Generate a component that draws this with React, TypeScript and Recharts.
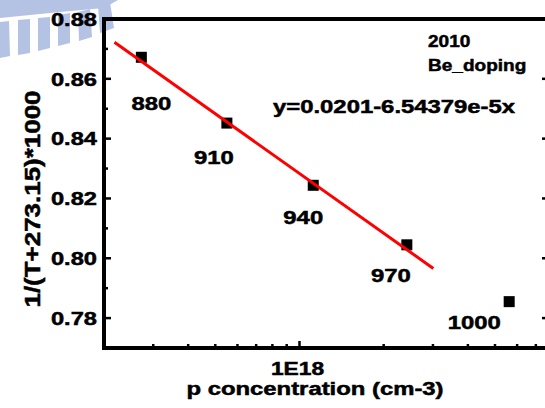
import { ComposedChart, Scatter, XAxis, YAxis } from 'recharts'

const temps = ['880', '910', '940', '970', '1000']
const conc = [2.72e17, 5.5e17, 1.12e18, 2.42e18, 5.62e18]
const invT = [0.8672, 0.8452, 0.8244, 0.8045, 0.7855]

const fitX = [2.18e17, 3.01e18]
const fitY = [0.8722, 0.7966]

const xTicks = [3e17, 4e17, 5e17, 6e17, 7e17, 8e17, 9e17, 1e18, 2e18, 3e18, 4e18, 5e18, 6e18, 7e18]
const xMajor = [1e18]
const xTickLabels = ['1E18']
const yTicks = [0.77, 0.78, 0.79, 0.8, 0.81, 0.82, 0.83, 0.84, 0.85, 0.86, 0.87, 0.88]
const yMajor = [0.78, 0.8, 0.82, 0.84, 0.86, 0.88]

const xDomain = [2e17, 7.8e18]
const yDomain = [0.77, 0.88]

const points = temps.map((t, i) => ({ x: conc[i], y: invT[i], label: t }))
const fit = fitX.map((x, i) => ({ x, y: fitY[i] }))

// plot box, matches the chart margins + axis sizes below
const PLOT = { left: 104, top: 19, right: 549, bottom: 348 }

// where each temperature label sits relative to its marker
const labelOffset: Record<string, [number, number]> = {
  '880': [10, 53],
  '910': [-13, 41],
  '940': [-10, 39],
  '970': [-16, 37],
  '1000': [-35, 27],
}

const FONT = '"Liberation Sans", Arial, sans-serif'

function SText({ x, y, children, size = 18.5, sx = 1.29, anchor = 'middle', rotate = 0, baseline }: any) {
  return (
    <g transform={`translate(${x},${y}) rotate(${rotate}) scale(${sx},1)`}>
      <text
        x={0}
        y={0}
        textAnchor={anchor}
        dominantBaseline={baseline}
        fontSize={size}
        fontWeight="bold"
        fontFamily={FONT}
        fill="#000"
        stroke="#000"
        strokeWidth={0.5}
      >
        {children}
      </text>
    </g>
  )
}

const isMajorX = (v: number) => xMajor.includes(v)
const isMajorY = (v: number) => yMajor.some((m) => Math.abs(m - v) < 1e-6)

function BottomTick({ x, y, payload }: any) {
  const major = isMajorX(payload.value)
  const idx = xMajor.indexOf(payload.value)
  return (
    <g>
      <line x1={x} x2={x} y1={y} y2={y - (major ? 7 : 4)} stroke="#000" strokeWidth={2.5} />
      {major && <SText x={x - 2} y={y + 27} sx={1.2} size={19}>{xTickLabels[idx]}</SText>}
    </g>
  )
}

function TopTick({ x, y, payload }: any) {
  const major = isMajorX(payload.value)
  return <line x1={x} x2={x} y1={y} y2={y + (major ? 7 : 4)} stroke="#000" strokeWidth={2.5} />
}

function LeftTick({ x, y, payload }: any) {
  const major = isMajorY(payload.value)
  return (
    <g>
      <line x1={x} x2={x + (major ? 7 : 4)} y1={y} y2={y} stroke="#000" strokeWidth={2.5} />
      {major && <SText x={x - 7} y={y + 6.7} anchor="end" sx={1.28}>{payload.value.toFixed(2)}</SText>}
    </g>
  )
}

function RightTick({ x, y, payload }: any) {
  const major = isMajorY(payload.value)
  return <line x1={x} x2={x - (major ? 7 : 4)} y1={y} y2={y} stroke="#000" strokeWidth={2.5} />
}

function PointShape({ cx, cy, payload }: any) {
  const [dx, dy] = labelOffset[payload.label] || [0, 40]
  return (
    <g>
      <rect x={cx - 5.5} y={cy - 5.5} width={11} height={11} fill="#000" />
      <SText x={cx + dx} y={cy + dy}>{payload.label}</SText>
    </g>
  )
}

function Watermark() {
  const c = '#b4c2e4'
  return (
    <svg width={545} height={408} style={{ position: 'absolute', left: 0, top: 0 }}>
      <polygon points="0,0 118,0 104,8 60,12 0,18" fill={c} />
      <polygon points="0,22 9,21 10,56 0,58" fill={c} />
      <polygon points="18,20 30,19 30,53 18,55" fill={c} />
      <polygon points="38,18 50,17 50,48 38,51" fill={c} />
      <polygon points="58,15 70,13 70,43 58,46" fill={c} />
      <polygon points="78,12 90,9 92,37 79,41" fill={c} />
      <polygon points="98,6 110,2 114,28 100,33" fill={c} />
    </svg>
  )
}

const axisCommon = {
  type: 'number' as const,
  allowDataOverflow: true,
  interval: 0 as const,
  tickLine: false,
  tickSize: 0,
  tickMargin: 0,
  axisLine: false,
}

export default function App() {
  return (
    <div style={{ position: 'absolute', left: 0, top: 0, width: 545, height: 408, overflow: 'hidden', background: '#fff' }}>
      <Watermark />
      <div style={{ position: 'absolute', left: 0, top: 0 }}>
        <ComposedChart width={560} height={408} margin={{ top: 18, right: 10, left: 8, bottom: 0 }}>
          <XAxis {...axisCommon} dataKey="x" scale="log" domain={xDomain} ticks={xTicks} tick={<BottomTick />} height={60} />
          <XAxis
            {...axisCommon}
            xAxisId="top"
            orientation="top"
            scale="log"
            domain={xDomain}
            ticks={xTicks}
            tick={<TopTick />}
            height={1}
          />
          <YAxis {...axisCommon} dataKey="y" domain={yDomain} ticks={yTicks} tick={<LeftTick />} width={96} />
          <YAxis
            {...axisCommon}
            yAxisId="right"
            orientation="right"
            domain={yDomain}
            ticks={yTicks}
            tick={<RightTick />}
            width={1}
          />
          <Scatter data={points} shape={<PointShape />} isAnimationActive={false} />
          <Scatter
            data={fit}
            line={{ stroke: '#ff0000', strokeWidth: 3 }}
            shape={() => <g />}
            isAnimationActive={false}
          />
        </ComposedChart>
      </div>
      <svg width={545} height={408} style={{ position: 'absolute', left: 0, top: 0, pointerEvents: 'none' }}>
        <g stroke="#000" strokeWidth={4} strokeLinecap="square">
          <line x1={PLOT.left} y1={PLOT.top} x2={PLOT.right} y2={PLOT.top} />
          <line x1={PLOT.left} y1={PLOT.top} x2={PLOT.left} y2={PLOT.bottom} />
          <line x1={PLOT.left} y1={PLOT.bottom} x2={PLOT.right} y2={PLOT.bottom} />
        </g>
        <SText x={32} y={199} rotate={-90} size={22} sx={1.18} baseline="central">
          1/(T+273.15)*1000
        </SText>
        <SText x={315} y={395}>p concentration (cm-3)</SText>
        <SText x={273} y={113} anchor="start">y=0.0201-6.54379e-5x</SText>
        <SText x={428} y={46.5} anchor="start" size={17} sx={1.12}>2010</SText>
        <SText x={428} y={70.5} anchor="start" size={17} sx={1.12}>Be_doping</SText>
      </svg>
    </div>
  )
}
